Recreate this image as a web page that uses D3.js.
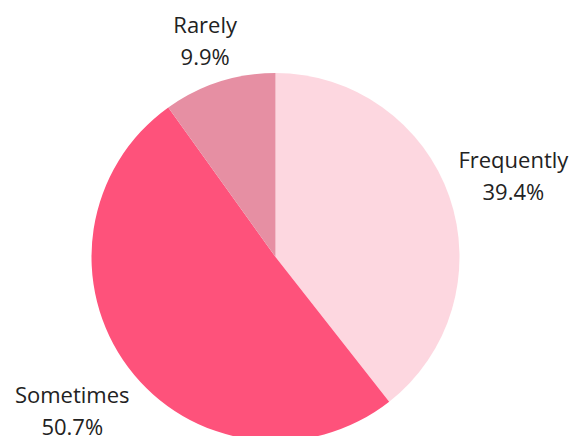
<!DOCTYPE html>
<html>
<head>
<meta charset="utf-8">
<script src="https://cdn.jsdelivr.net/npm/d3@7"></script>
<style>
  body { margin: 0; background: #fff; }
  text { font-family: "Open Sans", sans-serif; }
</style>
</head>
<body>
<div id="chart"></div>
<script>
var categories = ["Frequently", "Sometimes", "Rarely"];
var shares = [39.4, 50.7, 9.9];
var colors = ["#fdd7e0", "#fe527b", "#e68fa3"];

var width = 579, height = 436;
var cx = 275.5, cy = 257, radius = 184;

var svg = d3.select("#chart")
  .append("svg")
  .attr("width", width)
  .attr("height", height);

var data = categories.map(function(c, i) {
  return { name: c, value: shares[i], color: colors[i] };
});

var pie = d3.pie()
  .sort(null)
  .value(function(d) { return d.value; });

var arc = d3.arc()
  .innerRadius(0)
  .outerRadius(radius);

var g = svg.append("g")
  .attr("transform", "translate(" + cx + "," + cy + ")");

var arcs = pie(data);

g.selectAll(".slice")
  .data(arcs)
  .enter().append("path")
  .attr("class", "slice")
  .attr("d", arc)
  .style("fill", function(d) { return d.data.color; });

// labels: two lines, box pushed out along mid angle until its nearest corner clears the pie
var fontSize = 22;
var lineGap = 32;
var clear = radius + 6;

var labels = g.selectAll(".label")
  .data(arcs)
  .enter().append("text")
  .attr("class", "label")
  .attr("text-anchor", "middle")
  .style("font-size", fontSize + "px")
  .style("fill", "#222");

labels.append("tspan")
  .attr("x", 0)
  .attr("y", 0)
  .text(function(d) { return d.data.name; });

labels.append("tspan")
  .attr("x", 0)
  .attr("y", lineGap)
  .text(function(d) { return d.data.value.toFixed(1) + "%"; });

labels.each(function(d) {
  var bb = this.getBBox();
  var mid = (d.startAngle + d.endAngle) / 2;
  var ux = Math.sin(mid), uy = -Math.cos(mid);
  var ax = (ux < 0 ? -1 : 1) * bb.width / 2;
  var ay = (uy < 0 ? -1 : 1) * bb.height / 2;
  var ua = ux * ax + uy * ay;
  var t = ua + Math.sqrt(ua * ua - (ax * ax + ay * ay) + clear * clear);
  // shift so the bbox centre sits at t along the ray
  var bx = bb.x + bb.width / 2, by = bb.y + bb.height / 2;
  d3.select(this).attr("transform",
    "translate(" + (t * ux - bx) + "," + (t * uy - by) + ")");
});
</script>
</body>
</html>
